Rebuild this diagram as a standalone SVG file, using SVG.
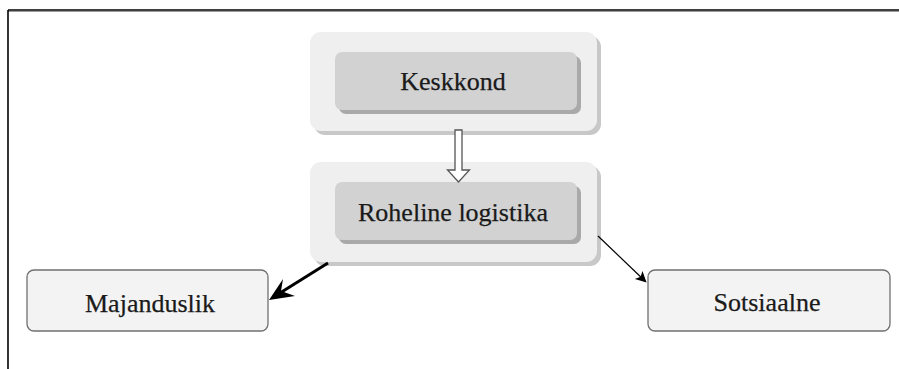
<svg xmlns="http://www.w3.org/2000/svg" width="899" height="369" viewBox="0 0 899 369">
<defs>
<style>
.t{font-family:"Liberation Serif","Times New Roman",serif;font-size:26px;fill:#1a1a1a;text-anchor:middle;stroke:#1a1a1a;stroke-width:0.25}
.outer{fill:#efefef}
.oshadow{fill:#c8c8c8}
.inner{fill:#d2d2d2}
.ishadow{fill:#a9a9a9}
.leaf{fill:#f3f3f3;stroke:#707070;stroke-width:1.3}
</style>
<marker id="ahs" viewBox="0 0 10 10" refX="8" refY="5" markerWidth="12" markerHeight="11" markerUnits="userSpaceOnUse" orient="auto">
<path d="M0,0 L10,5 L0,10 L2.5,5 z" fill="#000"/>
</marker>
</defs>
<rect width="899" height="369" fill="#fff"/>
<g id="frame">
<line x1="8" y1="10" x2="899" y2="10" stroke="#000" stroke-width="1.6"/>
<line x1="8" y1="11.5" x2="899" y2="11.5" stroke="#999" stroke-width="1"/>
<line x1="8" y1="10" x2="8" y2="369" stroke="#000" stroke-width="1.6"/>
</g>
<g id="keskkond">
<rect class="oshadow" x="314" y="36" width="287" height="99" rx="11"/>
<rect class="outer" x="310" y="32" width="287" height="99" rx="11"/>
<rect class="ishadow" x="339" y="56" width="242" height="58" rx="7"/>
<rect class="inner" x="335" y="52" width="242" height="58" rx="7"/>
<text class="t" x="453" y="90">Keskkond</text>
</g>
<g id="roheline">
<rect class="oshadow" x="314" y="166" width="287" height="100" rx="11"/>
<rect class="outer" x="310" y="162" width="287" height="100" rx="11"/>
<rect class="ishadow" x="339" y="186" width="242" height="58" rx="7"/>
<rect class="inner" x="335" y="182" width="242" height="58" rx="7"/>
<text class="t" x="453" y="221">Roheline logistika</text>
</g>
<g id="majanduslik">
<rect class="leaf" x="27" y="270" width="241" height="61" rx="7"/>
<text class="t" x="150" y="312">Majanduslik</text>
</g>
<g id="sotsiaalne">
<rect class="leaf" x="648" y="270" width="242" height="61" rx="7"/>
<text class="t" x="767" y="311">Sotsiaalne</text>
</g>
<g id="connectors">
<path d="M455,130 L462,130 L462,170 L469.5,170 L458.5,182 L447.5,170 L455,170 Z" fill="#fff" stroke="#555" stroke-width="1.3" stroke-linejoin="miter"/>
<line x1="328" y1="263" x2="280" y2="293" stroke="#000" stroke-width="3"/>
<path d="M269,300 L283,279 L281,291 L295,296 Z" fill="#000"/>
<line x1="598" y1="236" x2="645" y2="281" stroke="#000" stroke-width="1.2" marker-end="url(#ahs)"/>
</g>
</svg>
